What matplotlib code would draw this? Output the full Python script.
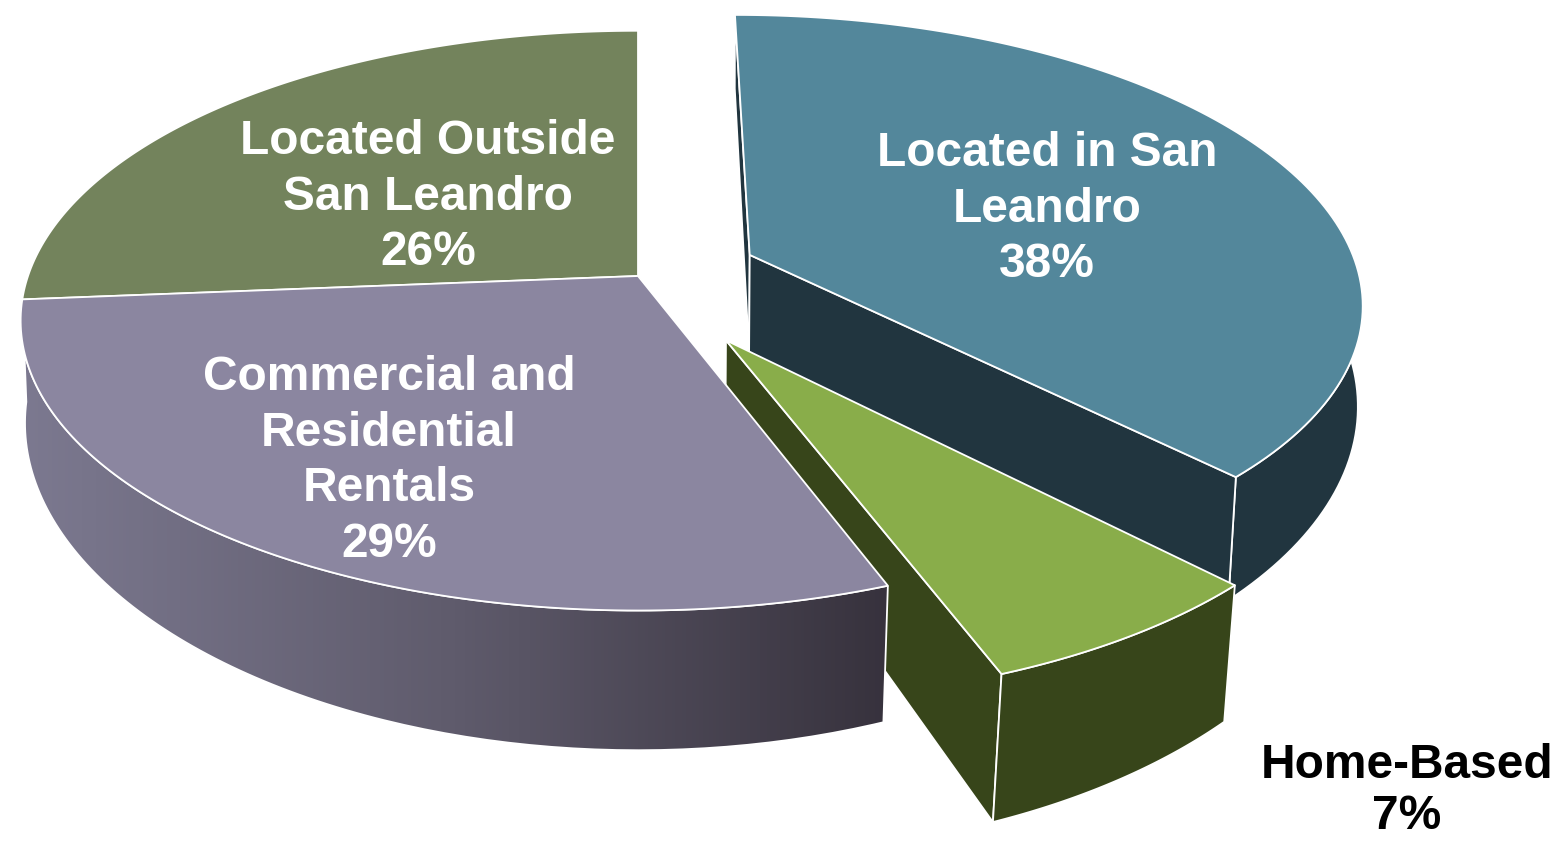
import numpy as np
import matplotlib
matplotlib.use('Agg')
import matplotlib.pyplot as plt
from matplotlib.patches import PathPatch, Polygon
from matplotlib.path import Path

# data
labels = ['Located in San\nLeandro', 'Home-Based', 'Commercial and\nResidential\nRentals', 'Located Outside\nSan Leandro']
shares = [37.7, 6.6, 29.4, 26.3]
explode = [0.2, 0.26, 0, 0]

# colours per slice
top_colors = ['#53879b', '#89ad4a', '#8b86a0', '#73835c']
side_colors = ['#21353f', '#37451a', '#5c5868', '#4d573d']

# projection of the pie disc onto the picture (pixels)
cx, cy = 638, 276
rx, ry = 610, 283
persp = 0.154
depth = 100


def project(u, v, lower=False):
    w = 1 / (1 + persp * v)
    x = cx + rx * u * w
    y = cy - ry * v * w
    if lower:
        x = x - (x - cx) * 0.006 * w ** 7
        y = y + depth * w ** 2
    return np.column_stack([x, y])


def arc(start, end, off, lower=False):
    t = np.radians(np.linspace(start, end, 120))
    return project(np.sin(t) + off[0], np.cos(t) + off[1], lower)


def centre(off, lower=False):
    return project(np.array([off[0]]), np.array([off[1]]), lower)


def poly(pts, color, z):
    ax.add_patch(Polygon(pts, closed=True, facecolor=color, edgecolor='white',
                         linewidth=1.3, joinstyle='round', zorder=z))


fig = plt.figure(figsize=(15.59, 8.41), dpi=100)
ax = fig.add_axes([0, 0, 1, 1])
ax.set_xlim(0, 1559)
ax.set_ylim(841, 0)
ax.axis('off')

# slice angles, clockwise from the top
edges = np.concatenate([[0], np.cumsum(shares)]) * 3.6
offsets = []
for i in range(4):
    mid = np.radians((edges[i] + edges[i + 1]) / 2)
    offsets.append((explode[i] * np.sin(mid), explode[i] * np.cos(mid)))

# blue slice, back to front
a, b, off = edges[0], edges[1], offsets[0]
poly(np.vstack([centre(off), arc(a, a, off)[:1], arc(a, a, off, True)[:1], centre(off, True)]), side_colors[0], 1)
poly(np.vstack([arc(a, b, off)[60:], arc(a, b, off, True)[60:][::-1]]), side_colors[0], 2)
poly(np.vstack([centre(off), arc(b, b, off)[:1], arc(b, b, off, True)[:1], centre(off, True)]), side_colors[0], 3)
poly(np.vstack([centre(off), arc(a, b, off)]), top_colors[0], 4)

# green slice
a, b, off = edges[1], edges[2], offsets[1]
poly(np.vstack([centre(off), arc(b, b, off)[:1], arc(b, b, off, True)[:1], centre(off, True)]), side_colors[1], 5)
poly(np.vstack([arc(a, b, off), arc(a, b, off, True)[::-1]]), side_colors[1], 6)
poly(np.vstack([centre(off), arc(a, b, off)]), top_colors[1], 7)

# olive slice
a, b, off = edges[3], edges[4], offsets[3]
poly(np.vstack([centre(off), arc(a, b, off)]), top_colors[3], 8)

# purple slice, outer wall has a left to right gradient
a, b, off = edges[2], edges[3], offsets[2]
wall = np.vstack([arc(a, b, off), arc(a, b, off, True)[::-1]])
cmap = matplotlib.colors.LinearSegmentedColormap.from_list('wall', ['#37323d', '#5f5b6c', '#7c7990'])
x0, x1 = wall[:, 0].min(), wall[:, 0].max()
y0, y1 = wall[:, 1].min(), wall[:, 1].max()
grad = np.linspace(0, 1, 256)[None, :]
im = ax.imshow(grad[:, ::-1], extent=[x0, x1, y1, y0], cmap=cmap, aspect='auto', zorder=9)
clip = PathPatch(Path(np.vstack([wall, wall[:1]])), facecolor='none', edgecolor='white', linewidth=1.3, zorder=10)
ax.add_patch(clip)
im.set_clip_path(clip)
poly(np.vstack([centre(off), arc(a, b, off)]), top_colors[2], 11)

ax.set_xlim(0, 1559)
ax.set_ylim(841, 0)

# labels
font = dict(family=['Liberation Sans', 'DejaVu Sans'], fontweight='bold', fontsize=34.5,
            ha='center', va='center', linespacing=1.3, zorder=20)
ax.text(1047, 209, f'{labels[0]}\n{round(shares[0])}%', color='white', **font)
ax.text(389, 461, f'{labels[2]}\n{round(shares[2])}%', color='white', **font)
ax.text(428, 197, f'{labels[3]}\n{round(shares[3])}%', color='white', **font)
# tighter spacing here so the last line stays inside the picture
font['linespacing'] = 1.15
ax.text(1407, 791, f'{labels[1]}\n{round(shares[1])}%', color='black', **font)

fig.savefig('out.png', dpi=100, facecolor='white')
